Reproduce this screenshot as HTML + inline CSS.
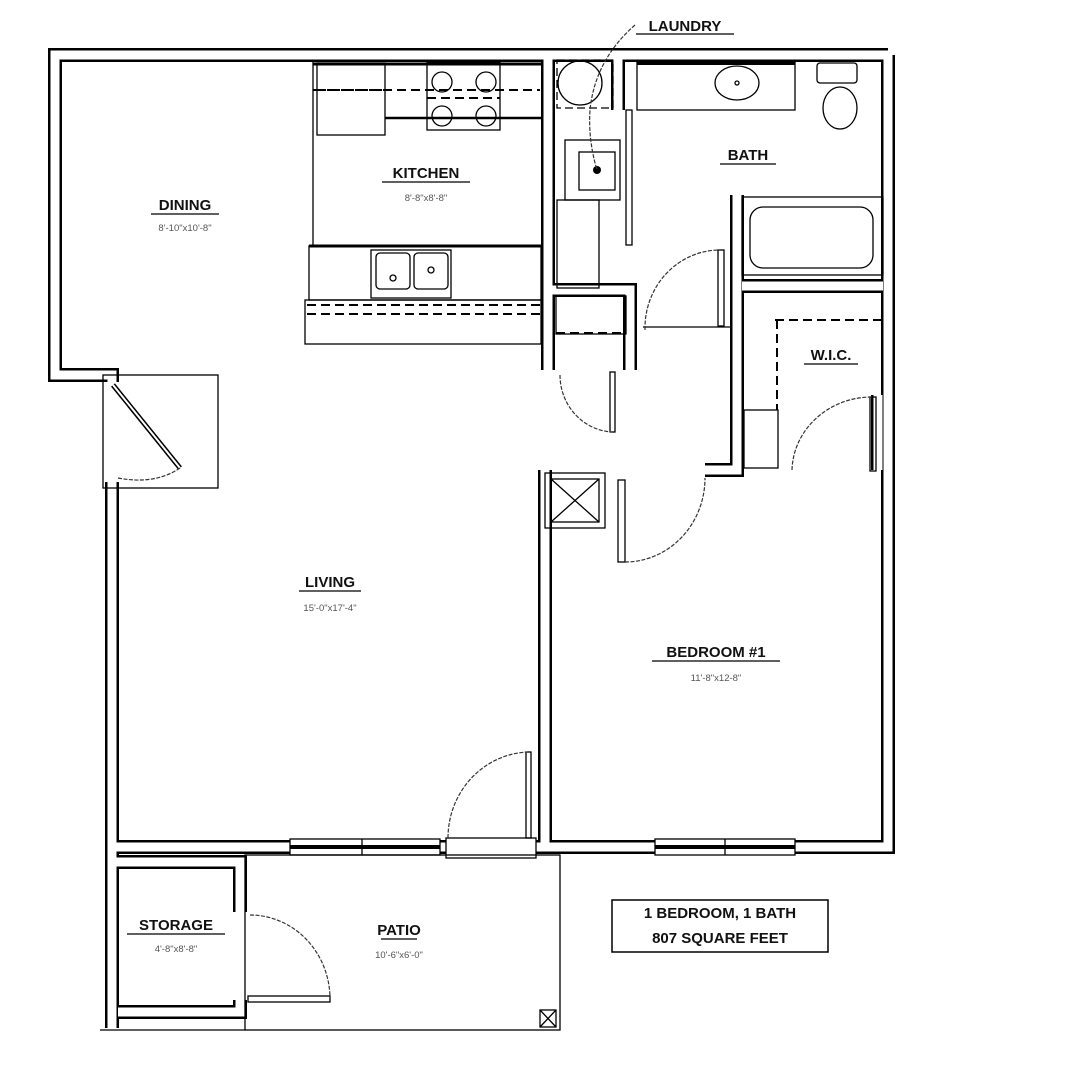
<!DOCTYPE html>
<html><head><meta charset="utf-8"><style>
html,body{margin:0;padding:0;background:#fff}
svg{display:block}
.l{font-family:"Liberation Sans",sans-serif;font-weight:bold;font-size:15px;fill:#111;text-anchor:middle}
.s{font-family:"Liberation Sans",sans-serif;font-size:9.5px;fill:#555;text-anchor:middle}
.w{fill:none;stroke:#000;stroke-width:14;stroke-linejoin:miter}
.wi{fill:none;stroke:#fff;stroke-width:9;stroke-linejoin:miter}
.t{fill:none;stroke:#000;stroke-width:1.3}
.a{fill:none;stroke:#333;stroke-width:1.2;stroke-dasharray:4 1.5}
.d{fill:none;stroke:#000;stroke-width:2;stroke-dasharray:9 5}
</style></head><body>
<svg width="1072" height="1080" viewBox="0 0 1072 1080" xmlns="http://www.w3.org/2000/svg">
<rect width="1072" height="1080" fill="#fff"/>
<g>
<path class="w" d="M888,55 H55 V375 H112 V382 M112,482 V1028 M112,847 H290 M440,847 H448 M530,847 H545 V470 M545,847 H655 M795,847 H888 V480 M888,480 V55 M548,55 V370 M618,55 V110 M112,862 H240 V912 M240,1000 V1012 H118 M548,290 H630 V370 M737,195 V470 H705 M742,286 H883 M878,395 V470"/>
<path class="wi" d="M888,55 H55 V375 H112 V382 M112,482 V1028 M112,847 H290 M440,847 H448 M530,847 H545 V470 M545,847 H655 M795,847 H888 V480 M888,480 V55 M548,55 V370 M618,55 V110 M112,862 H240 V912 M240,1000 V1012 H118 M548,290 H630 V370 M737,195 V470 H705 M742,286 H883 M878,395 V470"/>
</g>
<g class="t">
<rect x="290" y="839" width="150" height="16"/><line x1="290" y1="847" x2="440" y2="847" stroke-width="4"/><line x1="362" y1="839" x2="362" y2="855"/>
<rect x="655" y="839" width="140" height="16"/><line x1="655" y1="847" x2="795" y2="847" stroke-width="4"/><line x1="725" y1="839" x2="725" y2="855"/>
<rect x="446" y="838" width="90" height="20" fill="#fff"/>
</g>
<rect x="526" y="752" width="5" height="86" class="t"/>
<path class="a" d="M448,838 A83,86 0 0 1 528,752"/>
<rect x="103" y="375" width="115" height="113" class="t"/>
<path d="M113,385 L180,468" stroke="#000" stroke-width="5"/><path d="M113,385 L180,468" stroke="#fff" stroke-width="2"/>
<path class="a" d="M180,468 Q155,485 118,478"/>
<rect x="245" y="855" width="315" height="175" class="t"/>
<line x1="100" y1="1030" x2="245" y2="1030" class="t"/>
<rect x="540" y="1010" width="16" height="17" class="t"/><path d="M540,1010 L556,1027 M556,1010 L540,1027" class="t"/>
<rect x="248" y="996" width="82" height="6" class="t"/>
<path class="a" d="M250,915 A80,84 0 0 1 330,998"/>
<!-- kitchen -->
<line x1="313" y1="60" x2="313" y2="245" class="t"/>
<line x1="313" y1="64" x2="541" y2="64" stroke="#000" stroke-width="3"/>
<line x1="385" y1="118" x2="541" y2="118" stroke="#000" stroke-width="2.5"/>
<line x1="313" y1="90" x2="540" y2="90" class="d"/>
<rect x="317" y="63" width="68" height="72" class="t" fill="#fff" stroke-width="1.8"/>
<line x1="317" y1="90" x2="385" y2="90" class="d"/>
<rect x="427" y="62" width="73" height="68" class="t" fill="#fff" stroke-width="1.8"/>
<line x1="427" y1="98" x2="500" y2="98" class="d" stroke-width="1.2"/>
<g class="t" stroke-width="1.8"><circle cx="442" cy="82" r="10"/><circle cx="486" cy="82" r="10"/><circle cx="442" cy="116" r="10"/><circle cx="486" cy="116" r="10"/></g>
<rect x="309" y="246" width="232" height="54" class="t" stroke-width="2"/>
<line x1="309" y1="246" x2="541" y2="246" stroke="#000" stroke-width="3"/>
<rect x="371" y="250" width="80" height="48" class="t" stroke="#666"/>
<rect x="376" y="253" width="34" height="36" rx="4" class="t"/><rect x="414" y="253" width="34" height="36" rx="4" class="t"/>
<circle cx="393" cy="278" r="3" class="t"/><circle cx="431" cy="270" r="3" class="t"/>
<rect x="305" y="300" width="236" height="44" class="t" stroke-width="2"/>
<line x1="307" y1="305" x2="540" y2="305" class="d" stroke-width="3"/>
<line x1="307" y1="314" x2="540" y2="314" class="d" stroke-width="2.5"/>
<!-- laundry -->
<rect x="557" y="60" width="56" height="48" class="t" stroke-dasharray="8 4"/>
<circle cx="580" cy="83" r="22" class="t" stroke="#666"/>
<rect x="565" y="140" width="55" height="60" class="t"/><rect x="579" y="152" width="36" height="38" class="t"/>
<circle cx="597" cy="170" r="4" fill="#000"/>
<rect x="557" y="200" width="42" height="88" class="t" stroke-width="2"/>
<rect x="626" y="110" width="6" height="135" class="t"/>
<path class="a" d="M635,25 Q595,60 590,110 Q588,140 597,170"/>
<rect x="556" y="296" width="70" height="38" class="t" stroke-width="2"/>
<line x1="556" y1="333" x2="626" y2="333" class="d" stroke-width="3"/>
<rect x="610" y="372" width="5" height="60" class="t"/>
<path class="a" d="M560,375 A55,57 0 0 0 612,432"/>
<!-- bath -->
<rect x="637" y="62" width="158" height="48" class="t" stroke-width="2"/>
<line x1="637" y1="63" x2="795" y2="63" stroke="#000" stroke-width="4"/>
<ellipse cx="737" cy="83" rx="22" ry="17" class="t" stroke-width="2"/><circle cx="737" cy="83" r="2" class="t"/>
<rect x="817" y="63" width="40" height="20" rx="3" class="t" stroke="#666"/>
<ellipse cx="840" cy="108" rx="17" ry="21" class="t"/>
<rect x="742" y="197" width="141" height="78" class="t"/>
<rect x="750" y="207" width="123" height="61" rx="13" class="t"/>
<rect x="718" y="250" width="6" height="76" class="t"/>
<line x1="643" y1="327" x2="730" y2="327" class="t"/>
<path class="a" d="M645,330 A75,78 0 0 1 720,250"/>
<path d="M775,320 H883 M777,320 V410" class="d" stroke-width="2.5"/>
<rect x="744" y="410" width="34" height="58" class="t"/>
<rect x="870" y="397" width="6" height="74" class="t"/>
<path class="a" d="M792,470 A80,75 0 0 1 872,397"/>
<rect x="545" y="473" width="60" height="55" class="t" stroke-width="2"/>
<rect x="551" y="479" width="48" height="43" class="t"/>
<path d="M551,479 L599,522 M599,479 L551,522" class="t"/>
<rect x="618" y="480" width="7" height="82" class="t"/>
<path class="a" d="M625,562 A80,84 0 0 0 705,478"/>
<g>
<text class="l" x="185" y="210">DINING</text><line x1="151" y1="214" x2="219" y2="214" stroke="#000" stroke-width="1.3"/>
<text class="s" x="185" y="231">8'-10"x10'-8"</text>
<text class="l" x="426" y="178">KITCHEN</text><line x1="382" y1="182" x2="470" y2="182" stroke="#000" stroke-width="1.3"/>
<text class="s" x="426" y="201">8'-8"x8'-8"</text>
<text class="l" x="330" y="587">LIVING</text><line x1="299" y1="591" x2="361" y2="591" stroke="#000" stroke-width="1.3"/>
<text class="s" x="330" y="611">15'-0"x17'-4"</text>
<text class="l" x="716" y="657">BEDROOM #1</text><line x1="652" y1="661" x2="780" y2="661" stroke="#000" stroke-width="1.3"/>
<text class="s" x="716" y="681">11'-8"x12-8"</text>
<text class="l" x="748" y="160">BATH</text><line x1="720" y1="164" x2="776" y2="164" stroke="#000" stroke-width="1.3"/>
<text class="l" x="831" y="360" font-size="13">W.I.C.</text><line x1="804" y1="364" x2="858" y2="364" stroke="#000" stroke-width="1.3"/>
<text class="l" x="685" y="31" font-size="14">LAUNDRY</text><line x1="636" y1="34" x2="734" y2="34" stroke="#000" stroke-width="1.3"/>
<text class="l" x="176" y="930">STORAGE</text><line x1="127" y1="934" x2="225" y2="934" stroke="#000" stroke-width="1.3"/>
<text class="s" x="176" y="952">4'-8"x8'-8"</text>
<text class="l" x="399" y="935">PATIO</text><line x1="381" y1="939" x2="417" y2="939" stroke="#000" stroke-width="1.3"/>
<text class="s" x="399" y="958">10'-6"x6'-0"</text>
<rect x="612" y="900" width="216" height="52" fill="none" stroke="#000" stroke-width="1.5"/>
<text class="l" x="720" y="918" font-size="14">1 BEDROOM, 1 BATH</text>
<text class="l" x="720" y="943" font-size="14">807 SQUARE FEET</text>
</g>
</svg>
</body></html>
